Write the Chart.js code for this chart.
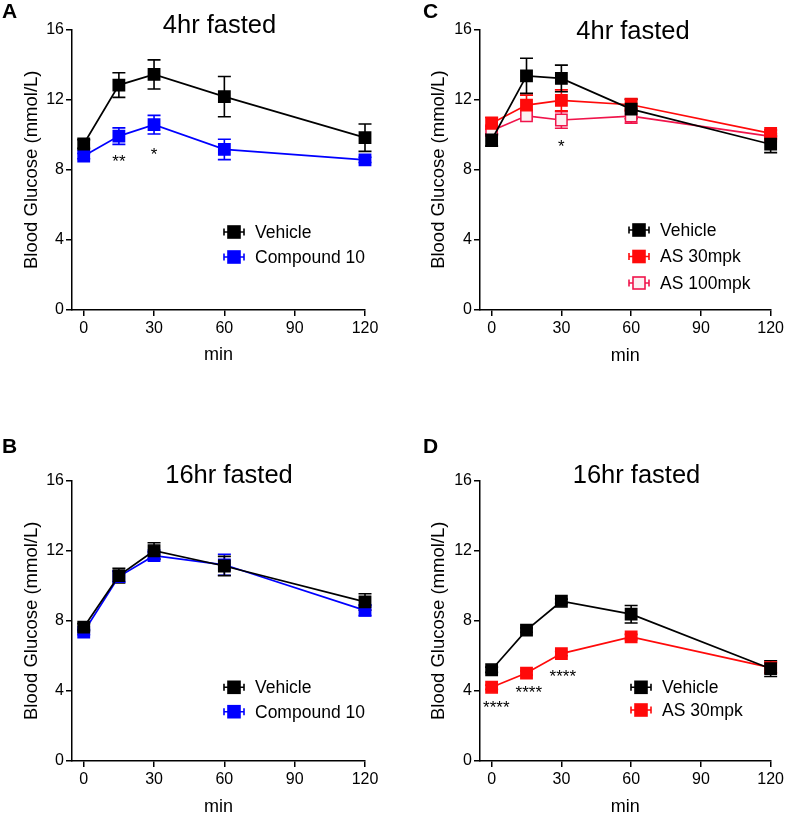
<!DOCTYPE html>
<html><head><meta charset="utf-8">
<script src="https://cdn.jsdelivr.net/npm/chart.js@4.4.1/dist/chart.umd.min.js"></script>
<style>
html,body{margin:0;padding:0;background:#fff;overflow:hidden;width:787px;height:813px;position:relative;}
canvas{position:absolute;}
</style></head><body>
<canvas id="cA" width="393" height="400" style="left:0;top:0"></canvas>
<canvas id="cC" width="394" height="400" style="left:393px;top:0"></canvas>
<canvas id="cB" width="393" height="420" style="left:0;top:420px"></canvas>
<canvas id="cD" width="394" height="420" style="left:393px;top:420px"></canvas>
<script>
// ---- data ----
const times = [0, 15, 30, 60, 120];
const xTicks = [0, 30, 60, 90, 120];
const yTicks = [0, 4, 8, 12, 16];

// Panel A: 4hr fasted
const vehicleA = [9.47, 12.83, 13.44, 12.17, 9.83];
const vehicleA_err = [0.25, 0.7, 0.83, 1.15, 0.78];
const cmp10A = [8.78, 9.92, 10.57, 9.16, 8.56];
const cmp10A_err = [0.15, 0.47, 0.53, 0.58, 0.15];
const starsA = [{x: 15, y: 8.71, t: '**'}, {x: 30, y: 9.11, t: '*'}];

// Panel B: 16hr fasted
const vehicleB = [7.64, 10.58, 12.0, 11.13, 9.08];
const vehicleB_err = [0.2, 0.42, 0.46, 0.55, 0.47];
const cmp10B = [7.36, 10.53, 11.72, 11.2, 8.6];
const cmp10B_err = [0.15, 0.3, 0.22, 0.6, 0.3];
const starsB = [];

// Panel C: 4hr fasted
const vehicleC = [9.69, 13.35, 13.2, 11.45, 9.45];
const vehicleC_err = [0.35, 1.0, 0.76, 0.55, 0.48];
const as30C = [10.64, 11.68, 11.95, 11.7, 10.07];
const as30C_err = [0.34, 0.57, 0.6, 0.35, 0.2];
const as100C = [10.22, 11.07, 10.83, 11.05, 9.9];
const as100C_err = [0.25, 0.18, 0.47, 0.4, 0.15];
const starsC = [{x: 30, y: 9.58, t: '*'}];

// Panel D: 16hr fasted
const vehicleD = [5.21, 7.47, 9.12, 8.38, 5.27];
const vehicleD_err = [0.15, 0.12, 0.12, 0.5, 0.45];
const as30D = [4.21, 5.02, 6.13, 7.08, 5.33];
const as30D_err = [0.12, 0.12, 0.12, 0.15, 0.3];
const starsD = [{x: 2, y: 3.29, t: '****'}, {x: 16, y: 4.15, t: '****'}, {x: 30.6, y: 5.06, t: '****'}];

// ---- styles ----
const FONT = "'Liberation Sans', Arial, Helvetica, sans-serif";
Chart.defaults.font.family = FONT;
Chart.defaults.color = '#000';

const BLACK = {color: '#000000', fill: '#000000'};
const BLUE = {color: '#0000ff', fill: '#0000ff'};
const RED = {color: '#ff0a0a', fill: '#ff0a0a'};
const PINK = {color: '#f0144b', fill: '#fbf0f2'};

const decor = {
  id: 'decor',
  beforeDatasetsDraw(chart) {
    const ctx = chart.ctx, xs = chart.scales.x, ys = chart.scales.y;
    const n = chart.data.datasets.length;
    for (let d = n - 1; d >= 0; d--) {
      const ds = chart.data.datasets[d];
      ctx.save();
      ctx.strokeStyle = ds.borderColor;
      ctx.lineWidth = 1.6;
      ds.data.forEach((p, i) => {
        const e = ds.err[i];
        const px = xs.getPixelForValue(p.x);
        const y1 = ys.getPixelForValue(p.y + e), y2 = ys.getPixelForValue(p.y - e);
        ctx.beginPath();
        ctx.moveTo(px, y1); ctx.lineTo(px, y2);
        ctx.moveTo(px - 6.5, y1); ctx.lineTo(px + 6.5, y1);
        ctx.moveTo(px - 6.5, y2); ctx.lineTo(px + 6.5, y2);
        ctx.stroke();
      });
      ctx.restore();
    }
  },
  afterDraw(chart, args, o) {
    const ctx = chart.ctx, xs = chart.scales.x, ys = chart.scales.y;
    ctx.save();
    // panel letter
    ctx.fillStyle = '#000';
    ctx.font = 'bold 21px ' + FONT;
    ctx.textAlign = 'left'; ctx.textBaseline = 'alphabetic';
    ctx.fillText(o.letter, o.letterX, o.letterY);
    // title
    ctx.font = '25.5px ' + FONT;
    ctx.textAlign = 'center';
    ctx.fillText(o.title, o.titleX, o.titleY);
    // significance stars
    const sz = 17;
    ctx.font = sz + 'px ' + FONT;
    (o.stars || []).forEach(s => {
      ctx.fillText(s.t, xs.getPixelForValue(s.x), ys.getPixelForValue(s.y) + 0.57 * sz);
    });
    // legend
    ctx.font = '17.5px ' + FONT;
    ctx.textAlign = 'left'; ctx.textBaseline = 'middle';
    chart.data.datasets.forEach((ds, i) => {
      const y = o.legY + i * o.legStep, cx = o.legX;
      ctx.strokeStyle = ds.borderColor; ctx.lineWidth = 1.6;
      ctx.beginPath();
      ctx.moveTo(cx - 10, y); ctx.lineTo(cx + 10, y);
      ctx.moveTo(cx - 10, y - 3.5); ctx.lineTo(cx - 10, y + 3.5);
      ctx.moveTo(cx + 10, y - 3.5); ctx.lineTo(cx + 10, y + 3.5);
      ctx.stroke();
      ctx.fillStyle = ds.pointBackgroundColor;
      ctx.fillRect(cx - 6, y - 6, 12, 12);
      ctx.strokeRect(cx - 6, y - 6, 12, 12);
      ctx.fillStyle = '#000';
      ctx.fillText(ds.label, o.legTextX, y + 1);
    });
    ctx.restore();
  }
};

function series(label, values, errs, st) {
  return {
    label: label,
    data: times.map((t, i) => ({x: t, y: values[i]})),
    err: errs,
    borderColor: st.color,
    backgroundColor: st.fill,
    pointBackgroundColor: st.fill,
    pointBorderColor: st.color,
    pointStyle: 'rect',
    pointRadius: 8,
    pointBorderWidth: 1.5,
    borderWidth: 1.7,
    tension: 0,
    fill: false,
    clip: false
  };
}

function makeChart(id, sets, L) {
  const tickFont = {size: 16, family: FONT};
  return new Chart(document.getElementById(id), {
    type: 'line',
    data: {datasets: sets},
    options: {
      responsive: false, animation: false, devicePixelRatio: 1,
      layout: {padding: L.padding},
      plugins: {legend: {display: false}, tooltip: {enabled: false}, title: {display: false}, decor: L.decor},
      scales: {
        x: {
          type: 'linear', min: -5, max: 120,
          afterBuildTicks: s => { s.ticks = xTicks.map(v => ({value: v})); },
          afterFit: s => { s.height = L.xH; },
          ticks: {font: tickFont, color: '#000', padding: 3, maxRotation: 0, autoSkip: false},
          grid: {drawOnChartArea: false, drawTicks: true, tickLength: 6, color: '#000', lineWidth: 1.5},
          border: {display: true, color: '#000', width: 1.5},
          title: {display: true, text: 'min', font: {size: 18, family: FONT}, color: '#000', padding: {top: 0, bottom: L.xTitlePad}}
        },
        y: {
          type: 'linear', min: 0, max: 16,
          afterBuildTicks: s => { s.ticks = yTicks.map(v => ({value: v})); },
          afterFit: s => { s.width = L.yW; },
          ticks: {font: tickFont, color: '#000', padding: 2},
          grid: {drawOnChartArea: false, drawTicks: true, tickLength: 6, color: '#000', lineWidth: 1.5},
          border: {display: true, color: '#000', width: 1.5},
          title: {display: true, text: 'Blood Glucose (mmol/L)', font: {size: 18.5, family: FONT}, color: '#000', padding: {top: L.yTitlePad, bottom: 0}}
        }
      }
    },
    plugins: [decor]
  });
}

makeChart('cA', [
  series('Vehicle', vehicleA, vehicleA_err, BLACK),
  series('Compound 10', cmp10A, cmp10A_err, BLUE)
], {padding: {top: 29.5, left: 0, right: 28, bottom: 30}, yW: 72, xH: 60, yTitlePad: 21, xTitlePad: 4.2,
   decor: {letter: 'A', letterX: 2, letterY: 18, title: '4hr fasted', titleX: 219.5, titleY: 33, stars: starsA,
           legX: 234, legTextX: 255, legY: 232, legStep: 25}});

makeChart('cC', [
  series('Vehicle', vehicleC, vehicleC_err, BLACK),
  series('AS 30mpk', as30C, as30C_err, RED),
  series('AS 100mpk', as100C, as100C_err, PINK)
], {padding: {top: 29.3, left: 0, right: 13, bottom: 30}, yW: 87, xH: 60, yTitlePad: 34.5, xTitlePad: 2.8,
   decor: {letter: 'C', letterX: 30, letterY: 18, title: '4hr fasted', titleX: 240, titleY: 39.3, stars: starsC,
           legX: 246, legTextX: 267, legY: 230, legStep: 26.5}});

makeChart('cB', [
  series('Vehicle', vehicleB, vehicleB_err, BLACK),
  series('Compound 10', cmp10B, cmp10B_err, BLUE)
], {padding: {top: 60.7, left: 0, right: 28, bottom: 19}, yW: 72, xH: 60, yTitlePad: 21, xTitlePad: 3.5,
   decor: {letter: 'B', letterX: 2, letterY: 33, title: '16hr fasted', titleX: 229, titleY: 63.3, stars: starsB,
           legX: 234, legTextX: 255, legY: 267.3, legStep: 24.4}});

makeChart('cD', [
  series('Vehicle', vehicleD, vehicleD_err, BLACK),
  series('AS 30mpk', as30D, as30D_err, RED)
], {padding: {top: 60.7, left: 0, right: 13, bottom: 19}, yW: 87, xH: 60, yTitlePad: 34.5, xTitlePad: 3.5,
   decor: {letter: 'D', letterX: 30, letterY: 33, title: '16hr fasted', titleX: 243.5, titleY: 62.7, stars: starsD,
           legX: 248, legTextX: 269, legY: 267.3, legStep: 22.7}});
</script>
</body></html>
